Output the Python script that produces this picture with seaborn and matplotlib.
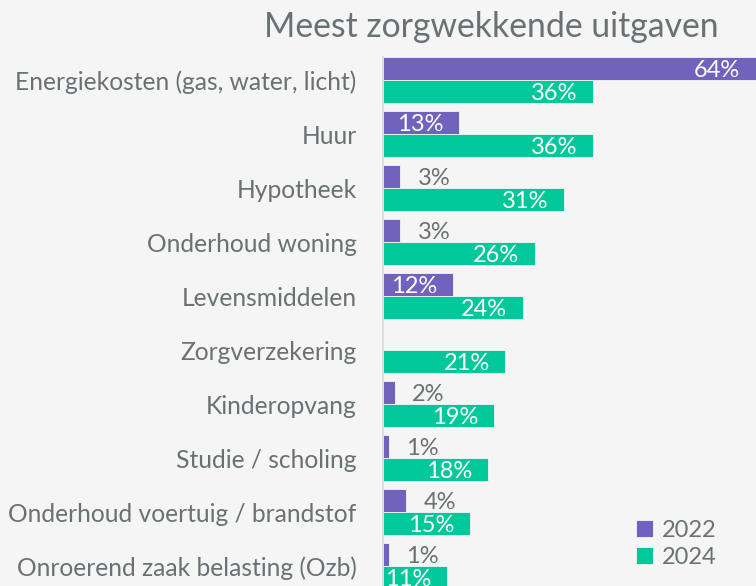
import pandas as pd
import numpy as np
import matplotlib
matplotlib.use("Agg")
import matplotlib.pyplot as plt
import seaborn as sns

# Data
categories = [
    "Energiekosten (gas, water, licht)",
    "Huur",
    "Hypotheek",
    "Onderhoud woning",
    "Levensmiddelen",
    "Zorgverzekering",
    "Kinderopvang",
    "Studie / scholing",
    "Onderhoud voertuig / brandstof",
    "Onroerend zaak belasting (Ozb)",
]
values_2022 = [64, 13, 3, 3, 12, np.nan, 2, 1, 4, 1]
values_2024 = [36, 36, 31, 26, 24, 21, 19, 18, 15, 11]
years = ["2022", "2024"]

df = pd.DataFrame({
    "categorie": categories * 2,
    "waarde": values_2022 + values_2024,
    "jaar": [years[0]] * len(categories) + [years[1]] * len(categories),
})

bg = "#f5f5f5"
purple = "#7163bd"
green = "#00c89b"
grey = "#697173"

sns.set_style("white")
plt.rcParams["font.family"] = ["Lato", "DejaVu Sans"]

fig = plt.figure(figsize=(7.56, 5.86), dpi=100, facecolor=bg)
ax = fig.add_axes([383 / 756, 0, 1 - 383 / 756, (586 - 57) / 586])
ax.set_facecolor(bg)

sns.barplot(data=df, x="waarde", y="categorie", hue="jaar", orient="h",
            palette=[purple, green], saturation=1, width=0.86, errorbar=None,
            linewidth=0.6, edgecolor=bg, ax=ax)

ax.set_xlim(0, 64)
ax.set_ylim(506 / 54, -23 / 54)

# value labels
for cont in ax.containers:
    for p in cont.patches:
        w = p.get_width()
        if np.isnan(w) or w == 0:
            continue
        yc = p.get_y() + p.get_height() / 2 + 0.03
        if w >= 10:
            ax.text(w - 2.7, yc, f"{w:.0f}%", ha="right", va="center",
                    color="white", fontsize=17)
        else:
            ax.text(w + 3, yc, f"{w:.0f}%", ha="left", va="center",
                    color=grey, fontsize=17)

ax.set_xlabel("")
ax.set_ylabel("")
ax.set_xticks([])
ax.tick_params(axis="y", length=0, pad=19, labelsize=17.7, labelcolor=grey)
for s in ["top", "right", "bottom"]:
    ax.spines[s].set_visible(False)
ax.spines["left"].set_color("#d9d9d9")
ax.spines["left"].set_linewidth(1.2)

handles, labels = ax.get_legend_handles_labels()
ax.legend(handles, labels, loc="lower left", bbox_to_anchor=(615 / 756, -0.005),
          bbox_transform=fig.transFigure, frameon=False, fontsize=17,
          labelcolor=grey, handlelength=0.7, handleheight=0.7,
          handletextpad=0.4, labelspacing=0.25)

fig.text(491 / 756, 1 - 27 / 586, "Meest zorgwekkende uitgaven", ha="center",
         va="center", fontsize=24.3, color=grey)

fig.savefig("out.png", dpi=100, facecolor=bg)
